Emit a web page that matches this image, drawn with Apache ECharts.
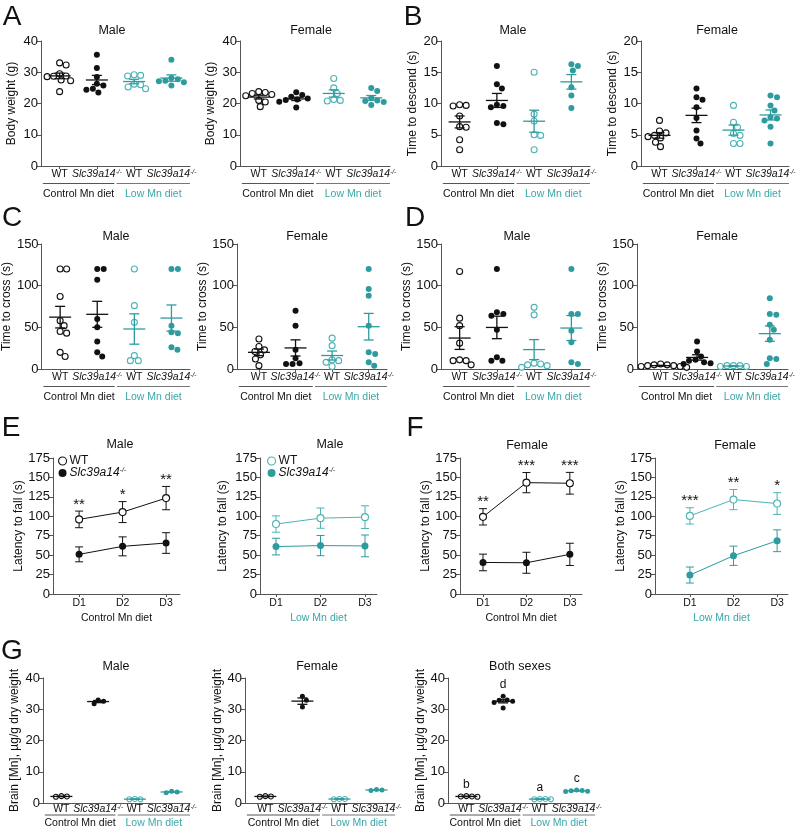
<!DOCTYPE html>
<html><head><meta charset="utf-8">
<script src="https://cdn.jsdelivr.net/npm/echarts@6/dist/echarts.min.js"></script>
<style>html,body{margin:0;padding:0;background:#fff}#c{width:802px;height:839px}</style>
</head><body><div id="c"></div>
<script>
// ---------------- DATA ----------------
const groupLabels = ['WT', 'Slc39a14-/-', 'WT', 'Slc39a14-/-'];
const dietLabels = ['Control Mn diet', 'Low Mn diet'];
const days = ['D1', 'D2', 'D3'];

// A: body weight (g)  [WT ctrl, KO ctrl, WT low, KO low]
const bodyWeightMale = [[33, 32.3, 29.5, 28.7, 28.6, 28.8, 27.5, 27.3, 23.8], [35.6, 31.4, 28.5, 26.3, 25.8, 24.7, 24.4, 23.5], [29.2, 29.0, 28.8, 26.2, 26.0, 25.3, 24.7], [34, 28.2, 27.8, 27.3, 27.1, 26.8, 25.8]];
const bodyWeightFemale = [[23.8, 23.5, 23.2, 22.9, 22.5, 21, 20.5, 19], [23.6, 22.7, 22.2, 21.6, 21.3, 21.1, 20.6, 18.7], [28, 25, 23.2, 21.3, 21, 20.8], [25, 24, 21.8, 21, 20.8, 20.5, 19.5]];
// B: time to descend (s)
const descendMale = [[9.8, 9.6, 9.7, 8.0, 6.3, 6.2, 4.2, 2.6], [16, 13.1, 12.4, 9.8, 9.6, 9.4, 6.9, 6.7], [15, 8.3, 7.2, 5.0, 4.9, 2.6], [16.3, 16.0, 15.3, 12.6, 11.3, 9.3]];
const descendFemale = [[7.3, 5.6, 5.3, 4.9, 4.7, 4.5, 3.8, 3.1], [12.4, 11, 10.6, 9.4, 7.7, 5.7, 4.4, 3.6], [9.7, 7.0, 6.2, 5.2, 4.9, 3.6, 3.6], [11.3, 11, 9.7, 8.9, 7.8, 7.6, 7.3, 6.3, 3.6]];
// C: time to cross (s)
const crossCMale = [[120, 120, 87, 58, 52, 45, 43, 20, 15], [120, 120, 107, 60, 50, 33, 20, 15], [120, 76, 56, 16, 10, 10], [120, 120, 52, 44, 43, 26, 23]];
const crossCFemale = [[36, 27, 23, 21, 17, 12, 4], [70, 52, 23, 13, 7, 6, 6], [37, 28, 11, 10, 8, 3], [120, 96, 88, 52, 20, 18, 8, 4]];
// D: time to cross (s)
const crossDMale = [[117, 61, 52, 31, 11, 10, 10, 5], [120, 68, 66, 64, 47, 14, 10, 10], [74, 65, 7, 6, 5, 4, 2], [120, 66, 66, 46, 32, 8, 6]];
const crossDFemale = [[6, 5, 5, 4, 4, 3, 3, 2], [33, 21, 15, 11, 10, 8, 7, 6], [4, 4, 3, 4, 3], [85, 65, 66, 53, 47, 35, 13, 12, 6]];
// G: brain Mn (µg/g dry weight)
const brainMale = [[2.2, 2.0, 2.1], [33.0, 32.6, 31.8], [1.2, 1.3, 1.2], [3.8, 3.5, 3.3]];
const brainFemale = [[2.2, 2.0, 2.1], [34.2, 32.9, 30.7], [1.3, 1.2, 1.3], [4.3, 4.0, 4.2]];
const brainBoth = [[2.2, 2.0, 2.1, 2.1], [34.2, 33.0, 32.6, 32.2, 32.9, 30.4], [1.2, 1.3, 1.2, 1.3], [4.0, 3.8, 4.2, 3.7, 3.9]];
const brainLetters = ['b', 'd', 'a', 'c'];

// E/F: latency to fall (s), mean and SEM per day
const fallMaleCtrlWT = [96, 105.4, 123.4], semMaleCtrlWT = [10.7, 13.5, 15];
const fallMaleCtrlKO = [51, 61.3, 65.6], semMaleCtrlKO = [9.6, 12.2, 13.3];
const fallMaleLowWT = [90, 97.6, 98.9], semMaleLowWT = [10.5, 13, 14.6];
const fallMaleLowKO = [61, 62.3, 61.9], semMaleLowKO = [10.7, 13, 14];
const fallFemCtrlWT = [99.3, 143.3, 142.5], semFemCtrlWT = [10.5, 13, 14];
const fallFemCtrlKO = [40.6, 40.2, 51], semFemCtrlKO = [10.7, 13.5, 14.3];
const fallFemLowWT = [100.5, 121.5, 116.4], semFemLowWT = [10.5, 13, 14];
const fallFemLowKO = [24.4, 49.2, 68.5], semFemLowKO = [10.3, 12.4, 14];
const sigMaleCtrl = ['**', '*', '**'], sigMaleLow = ['', '', ''];
const sigFemCtrl = ['**', '***', '***'], sigFemLow = ['***', '**', '*'];

// ---------------- STYLE ----------------
const FONT = 'Liberation Sans, Arial, Helvetica, sans-serif';
const BLACK = '#111', TEAL = '#2E9C9E', TEAL_OPEN = '#4DB3B5', TEAL_TEXT = '#3BA7A9', AX = '#555';

const option = { animation: false, backgroundColor: '#fff', grid: [], xAxis: [], yAxis: [], series: [], graphic: [], legend: [] };

const richX = {
  n: { fontSize: 10.5, fontFamily: FONT, color: BLACK },
  i: { fontSize: 10.5, fontFamily: FONT, fontStyle: 'italic', color: BLACK },
  s: { fontSize: 6.5, fontFamily: FONT, fontStyle: 'italic', color: BLACK, verticalAlign: 'top' }
};
function labelRich(t) {
  if (t.indexOf('-/-') >= 0) return '{i|' + t.replace('-/-', '') + '}{s|-/-}';
  return '{n|' + t + '}';
}

function mean(a) { return a.reduce((s, v) => s + v, 0) / a.length; }
function sem(a) { const m = mean(a); const v = a.reduce((s, x) => s + (x - m) * (x - m), 0) / (a.length - 1); return Math.sqrt(v / a.length); }

function swarm(vals, pxPerY, d) {
  const order = vals.map((v, i) => i).sort((a, b) => vals[b] - vals[a]);
  const placed = [], off = new Array(vals.length).fill(0);
  for (const i of order) {
    const y = vals[i] * pxPerY;
    for (let k = 0; k < 200; k++) {
      const c = k === 0 ? 0 : (k % 2 ? 1 : -1) * Math.ceil(k / 2) * 0.5;
      if (placed.every(p => Math.hypot(p.x - c, p.y - y) >= d)) { off[i] = c; placed.push({ x: c, y }); break; }
    }
  }
  return off;
}

function addAxes(g, xmin, xmax, ticks, fmt, xname, xnameColor) {
  const i = option.grid.length;
  option.grid.push({ left: g.left, top: g.top, width: g.width, height: g.height });
  option.xAxis.push({
    type: 'value', gridIndex: i, min: xmin, max: xmax,
    axisLine: { show: true, onZero: false, lineStyle: { color: AX, width: 1 } },
    axisTick: { show: true, length: 3, customValues: ticks, lineStyle: { color: AX } },
    axisLabel: { show: true, customValues: ticks, margin: g.lm, formatter: fmt, rich: richX, fontSize: 10.5, fontFamily: FONT, color: BLACK },
    splitLine: { show: false },
    name: xname || '', nameLocation: 'middle', nameGap: g.xng || 18,
    nameTextStyle: { fontSize: 10.5, fontFamily: FONT, color: xnameColor || BLACK }
  });
  option.yAxis.push({
    type: 'value', gridIndex: i, min: 0, max: g.ymax, interval: g.yint,
    axisLine: { show: true, lineStyle: { color: AX, width: 1 } },
    axisTick: { show: true, length: 4, lineStyle: { color: AX } },
    axisLabel: { fontSize: 13, margin: 3, color: BLACK, fontFamily: FONT },
    splitLine: { show: false },
    name: g.yname, nameLocation: 'middle', nameGap: g.ng,
    nameTextStyle: { fontSize: 12, color: BLACK, fontFamily: FONT }
  });
  return i;
}

function scatterPanel(g) {
  const xmin = g.xmin, xmax = 4.5;
  const i = addAxes(g, xmin, xmax, [1, 2, 3, 4], v => labelRich(groupLabels[Math.round(v) - 1]));
  const pxPerY = g.height / g.ymax, pxPerX = g.width / (xmax - xmin);
  const sz = g.sz || 6;
  g.data.forEach((vals, gi) => {
    const col = gi < 2 ? BLACK : (gi === 2 ? TEAL_OPEN : TEAL);
    const open = gi % 2 === 0;
    const off = swarm(vals, pxPerY, sz + 0.4);
    option.series.push({
      type: 'scatter', xAxisIndex: i, yAxisIndex: i, clip: false, silent: true, z: 2,
      symbol: 'circle', symbolSize: sz,
      itemStyle: open ? { color: '#fff', borderColor: col, borderWidth: 1.1, opacity: 1 } : { color: col, opacity: 1 },
      data: vals.map((v, k) => [gi + 1 + off[k] / pxPerX, v])
    });
  });
  const stats = g.data.map((vals, gi) => [gi + 1, mean(vals), sem(vals)]);
  option.series.push({
    type: 'custom', xAxisIndex: i, yAxisIndex: i, clip: false, silent: true, z: 3,
    data: stats,
    renderItem: (p, api) => {
      const x = api.value(0), m = api.value(1), s = api.value(2);
      const c = api.coord([x, m]), t = api.coord([x, m + s]), b = api.coord([x, m - s]);
      const col = p.dataIndex < 2 ? BLACK : TEAL;
      const st = { stroke: col, lineWidth: 1.3 };
      const hw = g.hw || 11, cw = 5;
      return { type: 'group', children: [
        { type: 'line', shape: { x1: c[0] - hw, y1: c[1], x2: c[0] + hw, y2: c[1] }, style: st },
        { type: 'line', shape: { x1: c[0], y1: t[1], x2: c[0], y2: b[1] }, style: st },
        { type: 'line', shape: { x1: c[0] - cw, y1: t[1], x2: c[0] + cw, y2: t[1] }, style: st },
        { type: 'line', shape: { x1: c[0] - cw, y1: b[1], x2: c[0] + cw, y2: b[1] }, style: st }
      ] };
    }
  });
  // diet group brackets
  option.series.push({
    type: 'custom', xAxisIndex: i, yAxisIndex: i, clip: false, silent: true, z: 3,
    data: [[1, 0]],
    renderItem: (p, api) => {
      const y0 = api.coord([1, 0])[1];
      const xa = api.coord([xmin + 0.05, 0])[0], xb = api.coord([2.47, 0])[0];
      const xc = api.coord([2.53, 0])[0], xd = api.coord([xmax, 0])[0];
      const yl = y0 + g.ul, yt = y0 + g.gt;
      const ts = (txt, x, col) => ({ type: 'text', x: x, y: yt, style: { text: txt, fill: col, fontSize: 10.5, fontFamily: FONT, align: 'center', verticalAlign: 'middle' } });
      return { type: 'group', children: [
        { type: 'line', shape: { x1: xa, y1: yl, x2: xb, y2: yl }, style: { stroke: '#555', lineWidth: 1 } },
        { type: 'line', shape: { x1: xc, y1: yl, x2: xd, y2: yl }, style: { stroke: '#777', lineWidth: 1 } },
        ts(dietLabels[0], (xa + xb) / 2, BLACK),
        ts(dietLabels[1], (xc + xd) / 2, TEAL_TEXT)
      ] };
    }
  });
  if (g.letters) {
    option.series.push({
      type: 'custom', xAxisIndex: i, yAxisIndex: i, clip: false, silent: true, z: 4,
      data: g.data.map((vals, gi) => [gi + 1, Math.max.apply(null, vals)]),
      renderItem: (p, api) => {
        const c = api.coord([api.value(0), api.value(1)]);
        return { type: 'text', x: c[0], y: c[1] - 11, style: { text: g.letters[p.dataIndex], fill: BLACK, fontSize: 12, fontFamily: FONT, align: 'center', verticalAlign: 'middle' } };
      }
    });
  }
}

function linePanel(g) {
  const i = addAxes(g, g.xmin, g.xmax, [1, 2, 3], v => '{n|' + days[Math.round(v) - 1] + '}', g.diet, g.dietColor);
  const lines = [
    { name: g.key + '-WT', m: g.wt, s: g.wtSem, open: true, col: g.col },
    { name: g.key + '-KO', m: g.ko, s: g.koSem, open: false, col: g.colFill }
  ];
  lines.forEach(L => {
    option.series.push({
      type: 'custom', xAxisIndex: i, yAxisIndex: i, clip: false, silent: true, z: 2,
      data: L.m.map((m, k) => [k + 1, m, L.s[k]]),
      renderItem: (p, api) => {
        const x = api.value(0), m = api.value(1), s = api.value(2);
        const t = api.coord([x, m + s]), b = api.coord([x, m - s]);
        const st = { stroke: L.col, lineWidth: 1 };
        const cw = 4;
        return { type: 'group', children: [
          { type: 'line', shape: { x1: t[0], y1: t[1], x2: t[0], y2: b[1] }, style: st },
          { type: 'line', shape: { x1: t[0] - cw, y1: t[1], x2: t[0] + cw, y2: t[1] }, style: st },
          { type: 'line', shape: { x1: t[0] - cw, y1: b[1], x2: t[0] + cw, y2: b[1] }, style: st }
        ] };
      }
    });
    option.series.push({
      type: 'line', name: L.name, xAxisIndex: i, yAxisIndex: i, clip: false, silent: true, z: 3,
      symbol: 'circle', symbolSize: 7, showSymbol: true,
      lineStyle: { color: L.col, width: 1 },
      itemStyle: L.open ? { color: '#fff', borderColor: L.col, borderWidth: 1.1 } : { color: L.col },
      data: L.m.map((m, k) => [k + 1, m])
    });
  });
  // significance asterisks above WT error bars
  option.series.push({
    type: 'custom', xAxisIndex: i, yAxisIndex: i, clip: false, silent: true, z: 4,
    data: g.wt.map((m, k) => [k + 1, m + g.wtSem[k]]),
    renderItem: (p, api) => {
      const c = api.coord([api.value(0), api.value(1)]);
      return { type: 'text', x: c[0], y: c[1] + 1, style: { text: g.sig[p.dataIndex], fill: BLACK, fontSize: 15, fontFamily: FONT, align: 'center', verticalAlign: 'bottom' } };
    }
  });
  if (g.legend) {
    option.legend.push({
      left: g.legend[0], top: g.legend[1], orient: 'vertical', itemWidth: 8, itemHeight: 8, itemGap: 0,
      selectedMode: false,
      data: [
        { name: g.key + '-WT', icon: 'circle', itemStyle: { color: '#fff', borderColor: g.col, borderWidth: 1.1 } },
        { name: g.key + '-KO', icon: 'circle', itemStyle: { color: g.colFill, borderWidth: 0 } }
      ],
      formatter: n => n.endsWith('KO') ? '{i|Slc39a14}{s|-/-}' : '{n|WT}',
      textStyle: { fontSize: 12, fontFamily: FONT, color: BLACK, padding: [0, 0, 0, -2],
        rich: { n: { fontSize: 12, fontFamily: FONT }, i: { fontSize: 12, fontFamily: FONT, fontStyle: 'italic' }, s: { fontSize: 7, fontFamily: FONT, fontStyle: 'italic', verticalAlign: 'top' } } }
    });
  }
}

// ---------------- LAYOUT ----------------
const P = { ul: 17.5, gt: 28, lm: 3 };
scatterPanel(Object.assign({ data: bodyWeightMale, left: 41, top: 41, width: 149, height: 125, xmin: 0.5, ymax: 40, yint: 10, yname: 'Body weight (g)', ng: 23 }, P));
scatterPanel(Object.assign({ data: bodyWeightFemale, left: 240, top: 41, width: 150, height: 125, xmin: 0.5, ymax: 40, yint: 10, yname: 'Body weight (g)', ng: 23 }, P));
scatterPanel(Object.assign({ data: descendMale, left: 441, top: 41, width: 149, height: 125, xmin: 0.5, ymax: 20, yint: 5, yname: 'Time to descend (s)', ng: 22 }, P));
scatterPanel(Object.assign({ data: descendFemale, left: 641, top: 41, width: 148, height: 125, xmin: 0.5, ymax: 20, yint: 5, yname: 'Time to descend (s)', ng: 22 }, P));
scatterPanel(Object.assign({ data: crossCMale, left: 41, top: 244, width: 149, height: 125, xmin: 0.5, ymax: 150, yint: 50, yname: 'Time to cross (s)', ng: 26 }, P));
scatterPanel(Object.assign({ data: crossCFemale, left: 237, top: 244, width: 150, height: 125, xmin: 0.4, ymax: 150, yint: 50, yname: 'Time to cross (s)', ng: 24 }, P));
scatterPanel(Object.assign({ data: crossDMale, left: 441, top: 244, width: 149, height: 125, xmin: 0.5, ymax: 150, yint: 50, yname: 'Time to cross (s)', ng: 26 }, P));
scatterPanel(Object.assign({ data: crossDFemale, left: 637, top: 244, width: 151, height: 125, xmin: 0.35, ymax: 150, yint: 50, yname: 'Time to cross (s)', ng: 24 }, P));

const PE = { top: 458, height: 136, ymax: 175, yint: 25, yname: 'Latency to fall (s)', lm: 4, xng: 19 };
linePanel(Object.assign({ key: 'MC', left: 53, width: 127, xmin: 0.4, xmax: 3.32, ng: 25, diet: dietLabels[0], dietColor: BLACK, col: BLACK, colFill: BLACK, wt: fallMaleCtrlWT, wtSem: semMaleCtrlWT, ko: fallMaleCtrlKO, koSem: semMaleCtrlKO, sig: sigMaleCtrl, legend: [53, 450] }, PE));
linePanel(Object.assign({ key: 'ML', left: 260, width: 117, xmin: 0.64, xmax: 3.27, ng: 31, diet: dietLabels[1], dietColor: TEAL_TEXT, col: TEAL_OPEN, colFill: TEAL, wt: fallMaleLowWT, wtSem: semMaleLowWT, ko: fallMaleLowKO, koSem: semMaleLowKO, sig: sigMaleLow, legend: [262, 450] }, PE));
linePanel(Object.assign({ key: 'FC', left: 460, width: 122, xmin: 0.47, xmax: 3.28, ng: 26, diet: dietLabels[0], dietColor: BLACK, col: BLACK, colFill: BLACK, wt: fallFemCtrlWT, wtSem: semFemCtrlWT, ko: fallFemCtrlKO, koSem: semFemCtrlKO, sig: sigFemCtrl }, PE));
linePanel(Object.assign({ key: 'FL', left: 655, width: 133, xmin: 0.2, xmax: 3.25, ng: 24, diet: dietLabels[1], dietColor: TEAL_TEXT, col: TEAL_OPEN, colFill: TEAL, wt: fallFemLowWT, wtSem: semFemLowWT, ko: fallFemLowKO, koSem: semFemLowKO, sig: sigFemLow }, PE));

const PG = { ul: 12, gt: 20.5, lm: 1, sz: 5, hw: 11, ymax: 40, yint: 10, yname: 'Brain [Mn], µg/g dry weight', top: 678, height: 125 };
scatterPanel(Object.assign({ data: brainMale, left: 43, width: 147, xmin: 0.5, ng: 22 }, PG));
scatterPanel(Object.assign({ data: brainFemale, left: 245, width: 150, xmin: 0.45, ng: 16 }, PG));
scatterPanel(Object.assign({ data: brainBoth, left: 448, width: 147, xmin: 0.5, ng: 20, letters: brainLetters }, PG));

// titles and panel letters
const titles = [['Male', 112, 31], ['Female', 311, 31], ['Male', 513, 31], ['Female', 717, 31],
  ['Male', 116, 237], ['Female', 307, 237], ['Male', 517, 237], ['Female', 717, 237],
  ['Male', 120, 445], ['Male', 330, 445], ['Female', 527, 446], ['Female', 735, 446],
  ['Male', 116, 667], ['Female', 317, 667], ['Both sexes', 520, 667]];
titles.forEach(t => option.graphic.push({ type: 'text', x: t[1], y: t[2], silent: true, style: { text: t[0], fill: BLACK, fontSize: 12.5, fontFamily: FONT, align: 'center', verticalAlign: 'middle' } }));
const letters = [['A', 12, 17], ['B', 413, 17], ['C', 12, 218], ['D', 415, 218], ['E', 11, 428], ['F', 415, 428], ['G', 12, 651]];
letters.forEach(t => option.graphic.push({ type: 'text', x: t[1], y: t[2], silent: true, style: { text: t[0], fill: BLACK, fontSize: 28, fontFamily: FONT, align: 'center', verticalAlign: 'middle' } }));

const chart = echarts.init(document.getElementById('c'), null, { renderer: 'canvas' });
chart.setOption(option);
</script></body></html>
